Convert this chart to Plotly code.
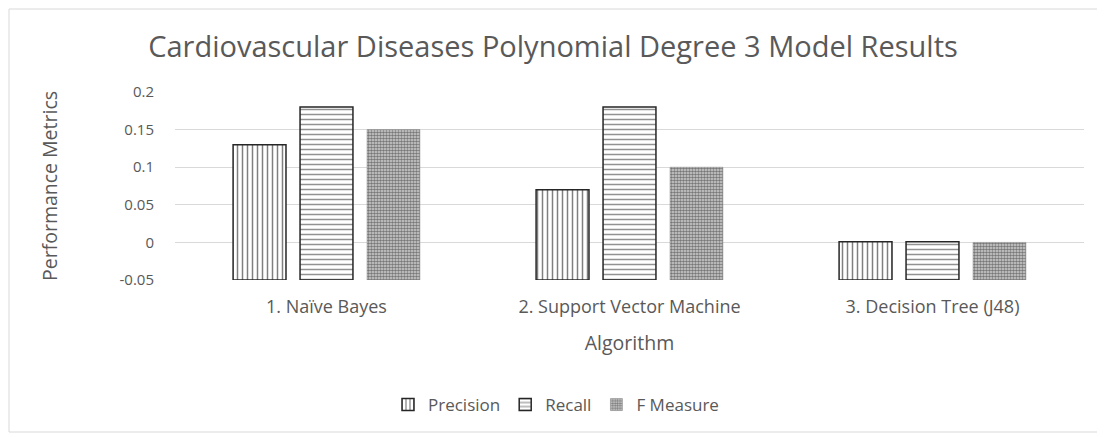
import plotly.graph_objects as go

categories = ["1. Naïve Bayes", "2. Support Vector Machine", "3. Decision Tree (J48)"]
precision = [0.13, 0.07, 0.001]
recall = [0.18, 0.18, 0.001]
f_measure = [0.15, 0.10, 0.0]
y_ticks = [-0.05, 0, 0.05, 0.1, 0.15, 0.2]
y_tick_labels = ["-0.05", "0", "0.05", "0.1", "0.15", "0.2"]
axis_floor = -0.05

# figure sits inside the page body (8px default margin)
W, H = 1097, 429
ML, MR, MT, MB = 167, 21, 84, 157

font = "Open Sans, Noto Sans, sans-serif"
grey = "#595959"

series = [
    ("Precision", precision, dict(shape="|", size=5, solidity=0.3, fgcolor="#000000", bgcolor="#ffffff"), dict(color="#262626", width=1.5)),
    ("Recall", recall, dict(shape="-", size=5, solidity=0.3, fgcolor="#262626", bgcolor="#ffffff"), dict(color="#262626", width=1.5)),
    ("F Measure", f_measure, dict(shape=".", size=3, solidity=0.6, fgcolor="#1a1a1a", bgcolor="#d4d4d4"), dict(color="#8a8a8a", width=0.5)),
]

fig = go.Figure()
for name, vals, pat, line in series:
    fig.add_trace(go.Bar(
        name=name, x=categories, y=[v - axis_floor for v in vals], base=axis_floor,
        marker=dict(color="#ffffff", pattern=pat, line=line),
    ))

pw = W - ML - MR
ph = H - MT - MB
# outer chart border
bx0, bx1, by0, by1 = 1, 1090, 1, 424
fig.add_shape(type="rect", xref="paper", yref="paper",
              x0=(bx0 - ML) / pw, x1=(bx1 - ML) / pw,
              y0=(MT + ph - by1) / ph, y1=(MT + ph - by0) / ph,
              line=dict(color="#d9d9d9", width=1), layer="below")

fig.update_layout(
    width=W, height=H,
    margin=dict(l=ML, r=MR, t=MT, b=MB),
    paper_bgcolor="white", plot_bgcolor="white",
    barmode="group", bargap=0.337, bargroupgap=0.21,
    title=dict(text="Cardiovascular Diseases Polynomial Degree 3 Model Results",
               x=545 / W, xref="container", xanchor="center", y=1 - 39 / H, yanchor="middle",
               font=dict(family=font, size=29, color=grey)),
    xaxis=dict(title=dict(text="Algorithm", font=dict(family=font, size=19.5, color=grey), standoff=19),
               tickfont=dict(family=font, size=18, color=grey), showline=False, ticks="",
               ticklabelstandoff=14),
    yaxis=dict(title=dict(text="Performance Metrics", font=dict(family=font, size=19.5, color=grey), standoff=56),
               range=[-0.05, 0.2], tickvals=y_ticks, ticktext=y_tick_labels,
               tickfont=dict(family=font, size=15, color=grey), ticklabelstandoff=20,
               gridcolor="#d9d9d9", gridwidth=1, zeroline=False, showline=False, ticks=""),
    legend=dict(orientation="h", x=548 / W, xanchor="center", xref="container",
                y=(H - 397) / H, yref="container", yanchor="middle",
                font=dict(family=font, size=17, color=grey), itemwidth=30, traceorder="normal"),
    showlegend=True,
)

fig.write_html("out.html")
